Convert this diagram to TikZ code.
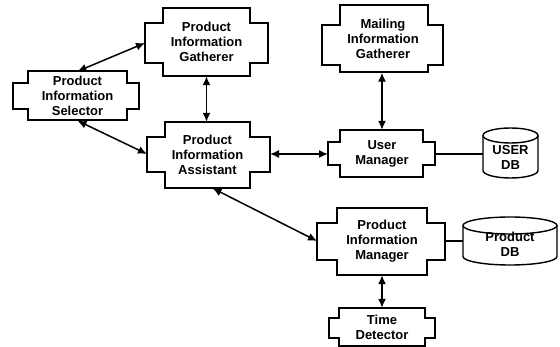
\documentclass[tikz,border=0pt]{standalone}
\usepackage{fontspec}
\setmainfont{Liberation Sans}
\usetikzlibrary{arrows.meta}

\tikzset{
  boxline/.style={draw=black, line width=1.4pt, line join=miter},
  lbl/.style={font=\bfseries\fontsize{13}{15}\selectfont, align=center,
              inner sep=0pt, draw=none},
  link/.style={line width=1.5pt,
               {Latex[length=9pt,width=8pt]}-{Latex[length=9pt,width=8pt]}},
  plainlink/.style={line width=1.4pt},
}

% Outline of a box with side tabs:
% outer-left, inner-left, inner-right, outer-right, top, tab-top, tab-bottom, bottom
\newcommand\tabbox[8]{%
  \draw[boxline] (#2,#5) -- (#3,#5) -- (#3,#6) -- (#4,#6) -- (#4,#7) -- (#3,#7)
    -- (#3,#8) -- (#2,#8) -- (#2,#7) -- (#1,#7) -- (#1,#6) -- (#2,#6) -- cycle;}

% Database drum: centre x, half width, top, bottom, ellipse y radius
\newcommand\drum[5]{%
  \draw[boxline] ({#1-#2},{#3+#5}) -- ({#1-#2},{#4-#5})
    arc[start angle=180, end angle=0, x radius=#2, y radius=#5]
    -- ({#1+#2},{#3+#5});
  \draw[boxline] (#1,{#3+#5}) ellipse[x radius=#2, y radius=#5];}

\begin{document}
\begin{tikzpicture}[x=1pt, y=-1pt]
  \useasboundingbox (0,0) rectangle (560,347);

  % component boxes
  \tabbox{145}{163}{250}{268}{8}{23}{63}{76}
  \node[lbl, minimum width=87pt, minimum height=68pt] (gath) at (206.5,42)
    {Product\\Information\\Gatherer};

  \tabbox{13}{28}{127}{139}{71}{83}{109}{120}
  \node[lbl, minimum width=99pt, minimum height=49pt] (sel) at (77.5,96)
    {Product\\Information\\Selector};

  \tabbox{147}{165}{250}{270}{122}{137}{172}{188}
  \node[lbl, minimum width=85pt, minimum height=66pt] (asst) at (207.5,155)
    {Product\\Information\\Assistant};

  \tabbox{322}{340}{428}{443}{5}{25}{65}{72}
  \node[lbl, minimum width=88pt, minimum height=67pt] (mail) at (383,39)
    {Mailing\\Information\\Gatherer};

  \tabbox{328}{340}{423}{435}{130}{142}{165}{177}
  \node[lbl, minimum width=83pt, minimum height=47pt] (umgr) at (382,153.5)
    {User\\Manager};

  \tabbox{317}{337}{427}{445}{208}{223}{260}{275}
  \node[lbl, minimum width=90pt, minimum height=67pt] (pim) at (382,241.5)
    {Product\\Information\\Manager};

  \tabbox{329}{339}{425}{435}{308}{318}{338}{346}
  \node[lbl, minimum width=86pt, minimum height=38pt] (tdet) at (382,327)
    {Time\\Detector};

  % databases
  \drum{510.5}{27.5}{128}{178}{7.5}
  \node[lbl, minimum width=55pt, minimum height=34pt] (udb) at (510.5,157.5)
    {USER\\DB};

  \drum{510}{47}{217}{265}{8.5}
  \node[lbl, minimum width=94pt, minimum height=32pt] (pdb) at (510,244)
    {Product\\DB};

  % tab sides used as connector ends
  \coordinate (gath-w) at (145,43);
  \coordinate (asst-w) at (147,154);
  \coordinate (asst-e) at (270,154);
  \coordinate (umgr-w) at (328,154);
  \coordinate (umgr-e) at (435,154);
  \coordinate (pim-w)  at (317,241);
  \coordinate (pim-e)  at (445,241);

  % connectors
  \draw[link] (sel.north) -- (gath-w);
  \draw[link] (sel.south) -- (asst-w);
  \draw[link] (gath.south) -- (gath.south |- asst.north);
  \draw[link] (asst-e) -- (umgr-w);
  \draw[link] ([xshift=5pt]asst.south) -- (pim-w);
  \draw[link] (mail.south -| umgr.north) -- (umgr.north);
  \draw[link] (pim.south) -- (tdet.north);
  \draw[plainlink] (umgr-e) -- (udb.west |- umgr-e);
  \draw[plainlink] (pim-e) -- (pdb.west |- pim-e);
\end{tikzpicture}
\end{document}
